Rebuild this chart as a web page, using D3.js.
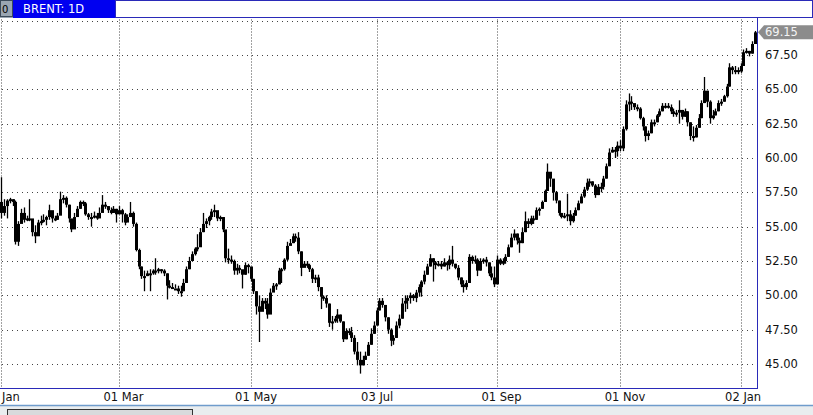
<!DOCTYPE html>
<html><head><meta charset="utf-8">
<script src="https://cdn.jsdelivr.net/npm/d3@7"></script>
<style>html,body{margin:0;padding:0;background:#fff;}svg{display:block;}</style>
</head><body><svg id="c" width="813" height="415"></svg>
<script>
const title = "BRENT: 1D";
const firstOpen = 56.8;
const closes = [56.0,56.5,56.9,57.0,56.8,53.9,55.2,56.0,55.5,55.6,55.6,54.6,54.3,55.3,55.4,55.5,55.7,56.2,55.6,55.5,
55.8,57.0,57.1,56.6,55.6,54.8,55.7,56.3,56.8,56.7,55.9,55.7,55.7,55.8,55.6,56.0,56.6,56.5,56.2,56.0,
56.3,55.9,56.2,55.9,55.3,55.7,56.0,55.2,53.3,52.1,51.4,51.4,51.6,51.6,51.8,51.8,51.9,51.8,51.6,50.7,
50.6,50.5,50.5,50.3,50.3,50.9,51.9,52.5,53.0,53.4,53.5,54.6,55.2,55.4,55.7,56.1,56.2,55.6,55.7,54.8,
52.7,52.6,52.5,51.8,52.0,51.9,51.5,52.2,52.1,51.2,50.3,49.2,48.8,49.6,49.4,48.6,50.2,50.7,50.8,51.8,
51.9,52.6,53.6,53.8,54.3,54.2,53.2,52.0,52.3,52.2,51.9,51.2,51.3,50.6,49.9,49.8,49.4,48.0,48.1,48.3,
48.6,48.1,46.8,47.4,47.3,46.9,45.9,45.3,44.9,45.3,45.6,46.4,47.2,47.8,48.9,49.6,49.3,48.4,47.5,46.7,
46.9,47.8,48.3,49.4,49.6,49.8,50.0,49.8,50.2,50.6,51.0,51.5,52.1,52.7,52.4,52.2,52.3,52.1,52.4,52.2,
52.6,52.3,52.0,51.3,50.8,50.6,50.9,52.8,52.5,52.6,51.8,52.5,52.6,52.4,51.6,51.3,50.8,52.6,52.3,52.5,
52.8,53.5,54.2,54.5,54.0,53.8,54.6,55.4,55.2,55.6,55.5,56.2,56.3,56.8,57.6,59.0,58.5,57.5,56.9,56.0,
55.7,55.8,55.9,55.4,55.8,56.2,56.7,57.2,57.7,58.2,58.3,58.0,57.3,57.9,57.9,58.5,59.4,60.4,60.6,60.5,
60.9,60.7,62.1,63.9,64.1,64.0,63.7,63.6,62.9,62.3,61.6,61.8,62.6,62.6,63.1,63.4,63.8,63.8,63.7,63.4,
63.2,63.3,63.5,63.0,63.4,62.6,61.6,61.5,62.2,62.9,64.0,64.9,64.1,62.9,63.1,63.4,64.0,64.1,64.5,65.2,
66.6,66.4,66.4,66.3,66.7,67.7,67.8,67.6,68.3,69.15];
const highs = [58.6,57.0,57.0,57.1,57.0,56.9,55.4,56.3,56.4,55.8,57.0,55.5,55.1,55.5,55.8,55.9,55.8,56.6,56.0,55.8,
56.0,57.55,57.3,57.2,56.6,55.5,56.0,56.5,56.9,56.9,56.8,56.0,56.0,56.1,56.0,56.4,57.3,56.8,56.5,56.4,
56.5,56.3,56.5,56.3,56.0,55.9,56.8,56.1,55.3,53.4,52.1,51.8,51.8,51.9,51.9,52.7,52.0,51.9,51.9,51.6,
51.1,50.9,50.8,50.7,50.7,51.2,52.1,52.8,53.2,53.5,54.45,54.9,56.0,55.6,55.8,56.3,56.6,55.9,55.8,55.7,
54.6,53.4,52.9,52.6,52.3,52.2,51.8,52.4,52.3,52.0,51.2,50.3,50.0,49.8,49.8,49.8,50.5,50.9,50.9,52.0,
52.0,52.7,53.9,54.1,54.5,54.5,54.6,53.2,52.5,52.5,52.3,52.0,51.5,51.5,50.6,50.0,50.0,49.4,48.5,48.5,
49.0,48.6,48.1,47.6,47.6,47.7,47.1,46.6,45.9,45.6,45.9,46.6,47.6,48.1,49.1,49.8,49.8,49.3,48.4,47.6,
47.1,48.1,48.6,49.8,50.0,50.0,50.2,50.1,50.4,50.8,51.1,51.8,52.3,53.0,52.7,52.5,52.5,52.5,52.7,52.5,
52.9,53.6,52.3,52.2,51.3,51.1,51.1,53.0,52.9,52.9,52.7,52.7,52.7,52.8,52.4,52.1,52.1,52.9,52.7,52.7,
53.0,53.7,54.5,54.8,54.5,54.2,54.9,56.1,55.6,55.8,55.8,56.4,56.4,56.9,57.7,59.6,58.8,58.3,57.6,56.9,
56.0,56.0,57.4,56.2,56.0,56.4,56.9,57.4,57.9,58.5,58.5,58.3,58.1,58.1,58.2,58.7,59.6,60.7,60.8,60.8,
61.2,61.3,62.3,64.2,64.7,64.5,63.9,63.9,63.7,63.0,62.3,62.0,62.8,62.8,63.2,63.6,64.0,64.0,64.0,63.9,
63.6,63.5,64.2,63.5,63.6,63.4,62.6,62.3,62.4,63.2,64.2,65.9,64.9,64.2,63.5,63.6,64.2,64.3,64.6,65.4,
66.9,66.7,66.7,66.6,66.9,67.9,68.0,67.8,68.5,69.25];
const lows = [55.6,55.8,55.6,56.7,56.5,53.7,53.6,55.3,55.3,55.4,55.4,54.3,53.8,54.6,55.1,55.3,55.1,55.5,55.3,55.4,
55.5,56.5,56.7,56.4,55.3,54.6,55.0,55.8,56.3,56.5,55.8,55.5,55.0,55.6,55.5,55.8,56.2,56.3,56.0,55.9,
56.0,55.3,55.9,55.3,55.1,55.4,55.7,55.0,53.2,51.9,51.2,50.3,51.4,50.3,51.5,51.5,51.6,51.6,51.4,49.7,
50.5,50.5,50.5,50.1,49.9,50.3,50.9,51.9,52.5,52.9,53.2,53.9,54.6,54.9,55.1,55.5,55.7,55.4,55.4,54.6,
52.4,52.3,52.3,51.5,51.5,51.6,50.5,51.5,51.6,51.0,50.1,48.6,46.6,49.3,49.0,48.3,49.0,50.4,50.4,50.8,
50.9,51.8,52.5,53.7,53.8,53.9,53.0,51.4,52.1,52.0,51.7,50.9,50.9,50.3,49.0,49.6,49.1,47.7,47.5,48.0,
48.0,48.0,46.6,46.8,47.1,46.6,45.7,44.9,44.3,44.9,45.3,45.6,46.4,47.2,47.8,48.9,49.1,48.1,47.2,46.3,
46.4,46.9,47.6,48.3,48.8,49.0,49.4,49.6,49.5,49.9,49.9,50.8,51.5,52.1,51.0,51.9,52.1,51.9,52.1,51.8,
51.9,52.1,51.9,51.1,50.6,50.2,50.4,50.9,52.3,52.3,51.4,51.8,52.3,52.1,51.4,51.1,50.6,50.8,52.2,52.2,
52.3,52.8,53.5,54.0,53.7,53.1,53.8,54.6,54.9,55.1,55.2,55.5,55.8,56.3,56.8,57.6,57.9,56.9,56.7,55.8,
55.6,55.6,55.4,55.1,55.3,55.8,56.2,56.7,57.1,57.6,57.9,57.9,57.1,57.3,57.5,57.7,58.5,59.4,60.4,60.0,
60.1,60.5,60.5,62.0,63.4,63.5,63.5,63.4,62.8,62.0,61.2,61.3,61.8,62.3,62.6,63.0,63.4,63.6,63.6,63.2,
63.0,63.0,62.5,62.8,63.0,62.3,61.3,61.2,61.5,62.2,62.9,64.0,63.7,62.5,62.8,63.1,63.4,63.8,64.1,64.4,
65.2,66.1,66.1,66.1,66.2,66.7,67.6,67.4,67.6,68.3];
const yTicks = [45.0,47.5,50.0,52.5,55.0,57.5,60.0,62.5,65.0,67.5,70.0];
const yLabels = ["45.00","47.50","50.00","52.50","55.00","57.50","60.00","62.50","65.00","67.50"];
const xTickIdx = [0,42,89,134,177,221,264];
const xTickLabels = ["Jan","01 Mar","01 May","03 Jul","01 Sep","01 Nov","02 Jan"];
const lastLabel = "69.15";

const svg = d3.select("#c");
const W = 813, H = 415;
const plotR = 757.5, plotT = 17.5, plotB = 388.5;
const x = d3.scaleLinear().domain([0, closes.length - 1]).range([1.4, 754.6]);
const y = d3.scaleLinear().domain([45, 67.5]).range([364, 55]);
const blue = "#2a2ab8";
const font = "'DejaVu Sans', Verdana, sans-serif";

svg.append("rect").attr("width", W).attr("height", H).attr("fill", "#fff");

// grid
const g = svg.append("g");
g.selectAll("line.h").data(yTicks).join("line")
  .attr("x1", 2).attr("x2", plotR - 2)
  .attr("y1", d => Math.round(y(d)) + 0.5).attr("y2", d => Math.round(y(d)) + 0.5)
  .attr("stroke", "#444").attr("stroke-width", 1).attr("stroke-dasharray", "1,4");
g.selectAll("line.v").data(xTickIdx).join("line")
  .attr("x1", d => Math.round(x(d)) + 0.5).attr("x2", d => Math.round(x(d)) + 0.5)
  .attr("y1", plotT + 2).attr("y2", plotB - 1)
  .attr("stroke", "#444").attr("stroke-width", 1).attr("stroke-dasharray", "1,2");

// bars
const data = closes.map((c, i) => ({i, c, o: i === 0 ? firstOpen : closes[i - 1], h: highs[i], l: lows[i]}));
const bars = svg.append("g");
bars.selectAll("line").data(data).join("line")
  .attr("x1", d => Math.round(x(d.i)) + 0.5).attr("x2", d => Math.round(x(d.i)) + 0.5)
  .attr("y1", d => y(d.h)).attr("y2", d => y(d.l))
  .attr("stroke", "#000").attr("stroke-width", 1.3);
bars.selectAll("rect").data(data).join("rect")
  .attr("x", d => Math.round(x(d.i)) - 1)
  .attr("width", 3)
  .attr("y", d => Math.min(y(d.o), y(d.c)))
  .attr("height", d => Math.max(2, Math.abs(y(d.o) - y(d.c))))
  .attr("fill", "#000");

// header
svg.append("rect").attr("x", 115.5).attr("y", 0.5).attr("width", W - 116).attr("height", 17)
  .attr("fill", "#fff").attr("stroke", blue).attr("stroke-width", 1);
svg.append("rect").attr("x", 0).attr("y", 0).attr("width", 13).attr("height", 18).attr("fill", "#9aa6b2");
svg.append("rect").attr("x", 0.5).attr("y", 0.5).attr("width", 12).attr("height", 16).attr("fill", "none").attr("stroke", "#3b4a5a");
svg.append("text").attr("x", 2).attr("y", 13).attr("font-family", font).attr("font-size", 10)
  .attr("fill", "#000").text("0");
svg.append("rect").attr("x", 13).attr("y", 0).attr("width", 102).attr("height", 18).attr("fill", "#0000f0");
svg.append("text").attr("x", 23).attr("y", 13).attr("font-family", font).attr("font-size", 11.5)
  .attr("fill", "#fff").text(title);

// borders
svg.append("line").attr("x1", plotR).attr("x2", plotR).attr("y1", plotT).attr("y2", plotB)
  .attr("stroke", blue).attr("stroke-width", 1);
svg.append("line").attr("x1", 0).attr("x2", plotR + 0.5).attr("y1", plotB).attr("y2", plotB)
  .attr("stroke", blue).attr("stroke-width", 1);

// right axis labels
svg.append("g").selectAll("text").data(yLabels).join("text")
  .attr("x", 765).attr("y", (d, i) => y(yTicks[i])).attr("dy", "0.36em")
  .attr("font-family", font).attr("font-size", 11.5).attr("fill", "#111").text(d => d);

// last price tag
const ly = y(+lastLabel);
svg.append("path")
  .attr("d", `M758,${ly} L764,${ly - 7} L813,${ly - 7} L813,${ly + 7} L764,${ly + 7} Z`)
  .attr("fill", "#8c8c8c");
svg.append("text").attr("x", 765).attr("y", ly).attr("dy", "0.36em")
  .attr("font-family", font).attr("font-size", 11.5).attr("fill", "#f4f4f4").text(lastLabel);

// x labels
svg.append("g").selectAll("text").data(xTickIdx).join("text")
  .attr("x", (d, i) => i === 0 ? 2 : x(d) - 15.5)
  .attr("y", 401)
  .attr("font-family", font).attr("font-size", 11.5).attr("fill", "#111")
  .text((d, i) => xTickLabels[i]);

// bottom band
svg.append("rect").attr("x", 0).attr("y", 405).attr("width", W).attr("height", 10).attr("fill", "#e9edef");
svg.append("line").attr("x1", 0).attr("x2", W).attr("y1", 405.5).attr("y2", 405.5)
  .attr("stroke", "#6f9ccc").attr("stroke-width", 1.5);
svg.append("rect").attr("x", 7.5).attr("y", 409.5).attr("width", 185).attr("height", 8)
  .attr("fill", "#d8dadc").attr("stroke", "#333").attr("stroke-width", 1);
</script></body></html>
